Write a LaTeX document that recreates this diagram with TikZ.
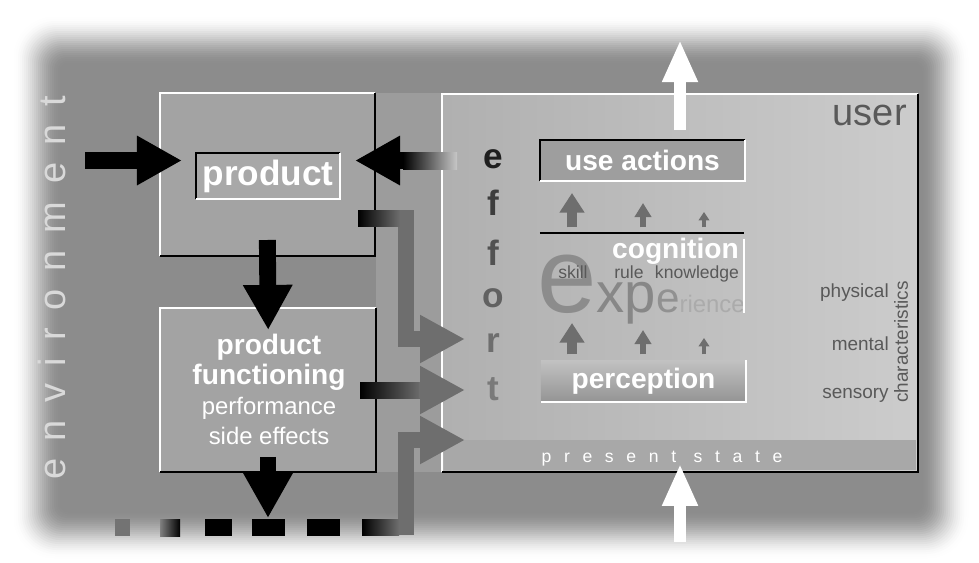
\documentclass[tikz,border=0pt]{standalone}
\usepackage{fontspec}
\setmainfont{Liberation Sans}
\usetikzlibrary{arrows.meta, positioning}
\newcommand{\fs}[1]{\fontsize{#1}{#1}\selectfont}
\newcommand{\bevel}[3]{%
    \draw[#2] (#1.south west) -- (#1.north west) -- (#1.north east);
    \draw[#3] (#1.north east) -- (#1.south east) -- (#1.south west);}

\begin{document}
\begin{tikzpicture}[
                x = 0.025cm, y = -0.025cm, % pixel grid, y downwards
                > = {Triangle[width=33pt, length=32pt]}, % block arrow head
                line join = miter,
                inner sep = 0pt
                ]
                \tikzstyle{box}=[inner sep = 0pt, outer sep = 0pt]
                \tikzstyle{blk}=[->, line width = 12pt, black]
                \tikzstyle{gry}=[-{Triangle[width=32pt, length=32pt]}, line width = 11.4pt, black!57]
                \tikzstyle{wht}=[-{Triangle[width=23.5pt, length=30pt]}, line width = 9.2pt, white]
                \tikzstyle{lbl}=[text = white, font = \bfseries\fs{20}]
                \tikzstyle{side}=[anchor = base east, text = black!65, font = \fs{13.5}]
                \tikzstyle{edge}=[line width = 2pt]

                \useasboundingbox (0,0) rectangle (979,562);
                \fill[white] (0,0) rectangle (979,562);
                % soft panel
                \foreach \i in {0,...,24} {
                    \pgfmathsetmacro\t{\i/24}
                    \pgfmathsetmacro\p{45*\t*\t*(3-2*\t)}
                    \pgfmathsetmacro\r{30-\i}
                    \fill[black!\p, rounded corners = \r pt]
                        ({12+2*\i},{15+2*\i}) rectangle ({970-2*\i},{560-2*\i});
                }
                \fill[black!39] (376,93) rectangle (442,472);

                \node[rotate = 90, text = black!15, font = \fs{27}\addfontfeature{LetterSpace=46}]
                    (env) at (52,288) {environment};

                % product side
                \node[box, fill = black!36, minimum width = 5.375cm, minimum height = 4.075cm]
                    (prod) at (267.5,174.5) {};
                \bevel{prod}{white, edge}{black, edge}
                \node[box, fill = black!34, minimum width = 3.6cm, minimum height = 1.15cm,
                    lbl, font = \bfseries\fs{25}] (prodlabel) at (268,176) {product};
                \bevel{prodlabel}{black, edge}{white, edge}

                \node[box, fill = black!36, minimum width = 5.4cm, minimum height = 4.1cm]
                    (func) at (268,390) {};
                \bevel{func}{white, edge}{black, edge}
                \node[text = white, align = center, font = \fontsize{17}{21.3}\selectfont]
                    (functext) at (269,389)
                    {\textbf{\fontsize{20}{21.3}\selectfont product}\\
                     \textbf{\fontsize{20}{21.3}\selectfont functioning}\\
                     performance\\side effects};

                % user side
                \node[box, left color = black!31, right color = black!20,
                    minimum width = 11.9cm, minimum height = 9.45cm] (user) at (680,283) {};
                \fill[black!34] (444,440) rectangle (916,470);
                \bevel{user}{white, edge}{black, edge}

                \node[anchor = base east, text = black!65, font = \fs{27}] (usr) at (907,125) {user};

                \foreach \l/\y/\s [count=\i] in {e/168/88, f/215/76, f/265/68, o/307/62, r/352/57, t/400/52}
                    \node[anchor = base, text = black!\s, font = \bfseries\fs{25}] (eff\i) at (493,\y) {\l};

                \node[box, fill = black!38, minimum width = 5.125cm, minimum height = 1.025cm, lbl]
                    (useact) at (642.5,160.5) {use actions};
                \bevel{useact}{black, edge}{white, edge}

                \node[box, minimum width = 5.1cm, minimum height = 2cm] (cog) at (642,273) {};
                \begin{scope}
                    \clip (520,230) rectangle (743,340);
                    \node[anchor = base west] (exper) at (537,312)
                        {\color{black!45}\fs{76}e\color{black!47}\fs{40}xp\color{black!43}\fs{30}e\color{black!33}\fs{17}rience};
                \end{scope}
                \draw[black, edge] (cog.north west) -- (cog.north east);
                \draw[white, edge] ([yshift=-4pt]cog.north east) -- (cog.south east);
                \node[anchor = base east, lbl] (coglabel) at (739,258) {cognition};
                \node[anchor = base, text = black!65, font = \fs{12.5}] (skill) at (573,278) {skill};
                \node[anchor = base, text = black!65, font = \fs{12.5}] (rule) at (629,278) {rule};
                \node[anchor = base, text = black!65, font = \fs{12.5}] (know) at (697,278) {knowledge};

                \node[box, top color = black!24, bottom color = black!42,
                    minimum width = 5.125cm, minimum height = 1.05cm, lbl] (perc) at (643.5,381) {perception};
                \draw[white, edge] (perc.north east) -- (perc.south east) -- (perc.south west);

                \foreach \x/\hw/\hl/\sw/\ln in {572/17/14/7/40, 643/11.5/10/4.3/30, 704/7.5/6/3/21} {
                    \draw[-{Triangle[width=\hw pt, length=\hl pt]}, line width = \sw pt, black!57,
                        shorten <= 4pt] (cog.north -| \x,0) -- ++(0,-\ln);
                }
                \foreach \x/\hw/\hl/\sw/\ln in {572/17/14/7/37, 643/11.5/10/4.3/30, 704/7.5/6/3/22} {
                    \draw[-{Triangle[width=\hw pt, length=\hl pt]}, line width = \sw pt, black!57,
                        shorten <= 4pt] (perc.north -| \x,0) -- ++(0,-\ln);
                }

                \node[side] (phys) at (889,297) {physical};
                \node[side] (ment) at (889,350) {mental};
                \node[side] (sens) at (889,398) {sensory};
                \node[rotate = 90, text = black!65, font = \fs{13.5}] (chars) at (901,342) {characteristics};

                \node[anchor = base, text = white, font = \fs{12.5}\addfontfeature{LetterSpace=72}]
                    (state) at (662,462) {present state};

                % black arrows
                \coordinate (envin) at (85,160.5);
                \draw[blk, shorten >= 10pt] (envin) -- (envin -| prodlabel.west);
                \coordinate (effin) at (457,160.5);
                \shade[left color = black, right color = black!22] (403,152) rectangle (457,169);
                \draw[blk, shorten >= 10.7pt] ([xshift=-38.4pt]effin) -- (effin -| prodlabel.east);
                \draw[blk, shorten <= -11.4pt, shorten >= -15.6pt] (prod.south) -- (func.north);
                \coordinate (sidefx) at (268,518);
                \draw[blk, shorten <= -10.7pt] (func.south) -- (sidefx);

                % bottom dashes
                \fill[black!55] (115,519) rectangle (130,536);
                \shade[left color = black!50, right color = black] (160,519) rectangle (180,536);
                \fill[black] (205,519) rectangle (232,536);
                \fill[black] (252,519) rectangle (285,536);
                \fill[black] (307,519) rectangle (340,536);

                % grey arrows into effort
                \coordinate (prodout) at (398,218.5);
                \coordinate (effr) at (465,339);
                \draw[gry] (prodout) -- ++(8,0) |- (effr);
                \shade[left color = black, right color = black!57] (358,210.5) rectangle (400,226.5);

                \coordinate (funcout) at (419,390);
                \coordinate (efft) at (465,390);
                \shade[left color = black, right color = black!57] (360,382) rectangle (421,398);
                \draw[gry] (funcout) -- (efft);

                \coordinate (sideout) at (396,527);
                \coordinate (effb) at (465,440);
                \draw[gry] (sideout) -- ++(10,0) |- (effb);
                \shade[left color = black, right color = black!57] (362,519) rectangle (399,535);

                % white arrows
                \coordinate (actout) at (680,40);
                \draw[wht, shorten <= 7pt] (useact.north -| actout) -- (actout);
                \coordinate (statein) at (680,542);
                \draw[wht, shorten >= 4pt] (statein) -- (statein |- state.center);
            \end{tikzpicture}
\end{document}
